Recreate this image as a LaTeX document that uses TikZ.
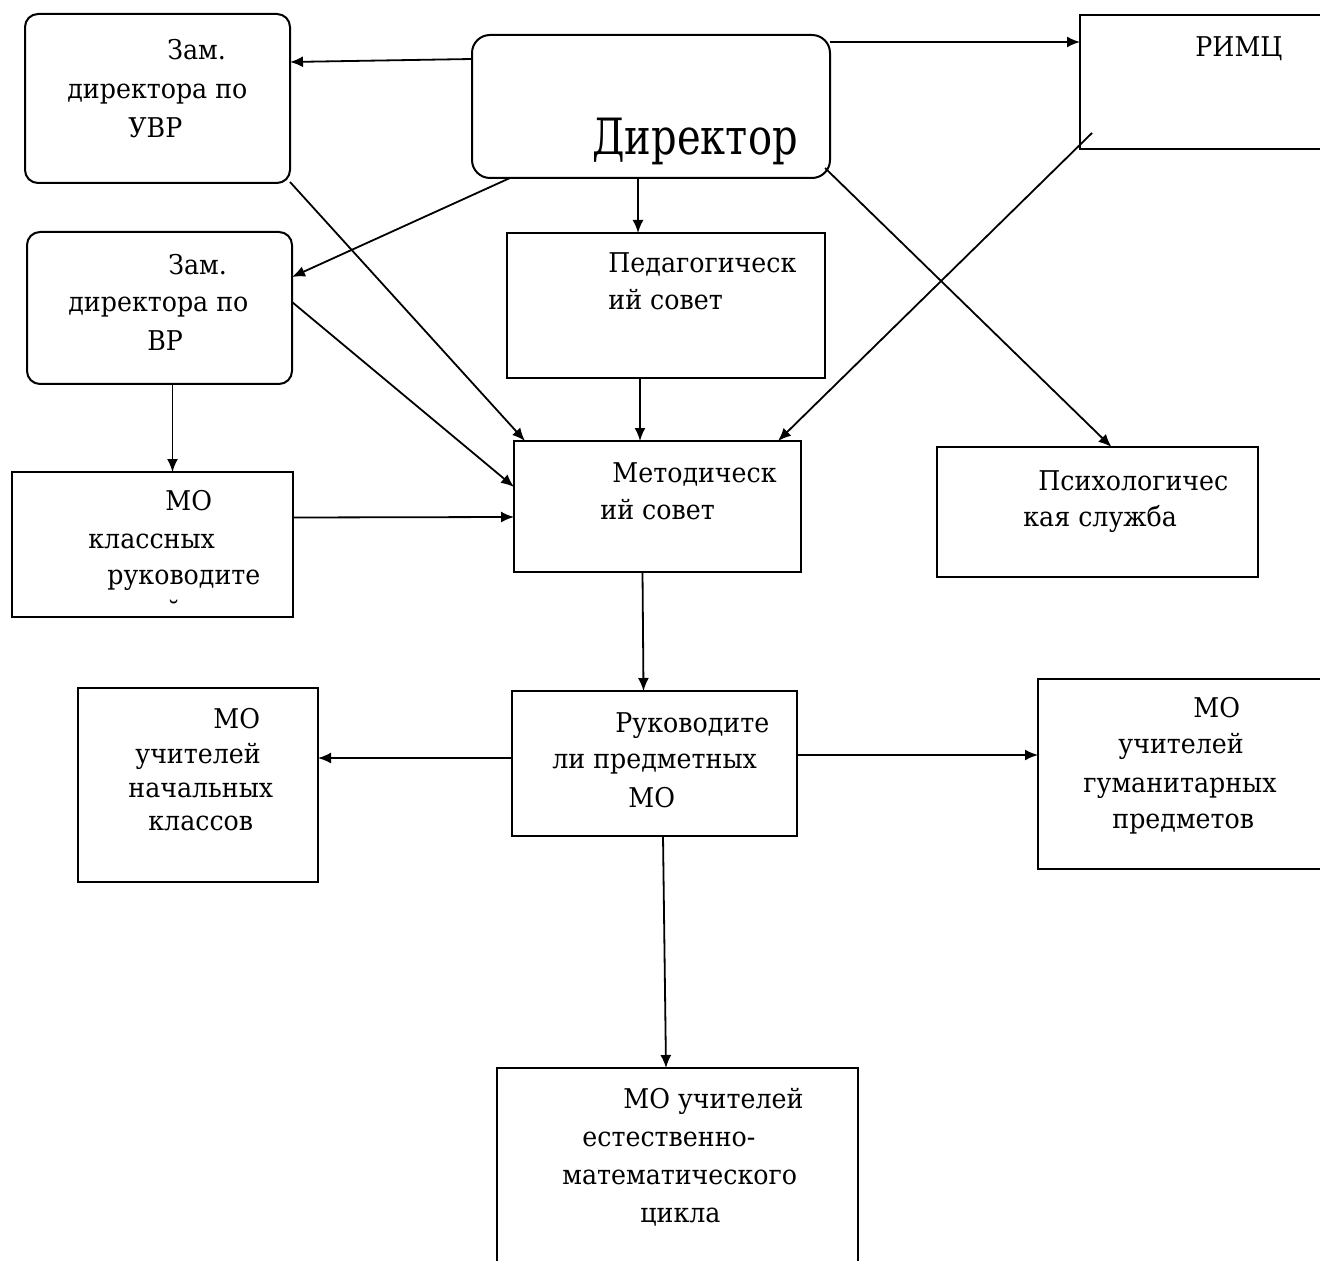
\documentclass[tikz,border=0pt]{standalone}
\usepackage{fontspec}
\setmainfont{DejaVu Serif}[FakeStretch=0.93]
\newfontfamily\dirfont{DejaVu Serif}[FakeStretch=0.8]
\usetikzlibrary{arrows.meta,calc}
\begin{document}
\begin{tikzpicture}[x=0.5pt,y=-0.5pt,
  box/.style={draw, line width=1pt, inner sep=0pt, outer sep=0pt},
  rbox/.style={box, rounded corners=6.5pt},
  txt/.style={inner sep=0pt, anchor=base west, font=\fontsize{13.6pt}{16pt}\selectfont},
  arr/.style={line width=0.9pt, -{Latex[length=6.5pt,width=5.5pt]}}]
\clip (0,0) rectangle (1320,1261);
\fill[white] (0,0) rectangle (1320,1261);
% boxes
\node[rbox, minimum width=132.5pt, minimum height=84.5pt] (uvr) at (157.5,98.5) {};
\node[box, rounded corners=9pt, minimum width=179pt, minimum height=71.5pt] (dir) at (651,106.5) {};
\node[box, minimum width=130pt, minimum height=67pt] (rimc) at (1210,82) {};
\node[rbox, minimum width=132.5pt, minimum height=76pt] (vr) at (159.5,308) {};
\node[box, minimum width=159pt, minimum height=72.5pt] (ped) at (666,305.5) {};
\node[box, minimum width=143.5pt, minimum height=65.5pt] (met) at (657.5,506.5) {};
\node[box, minimum width=160.5pt, minimum height=65pt] (psy) at (1097.5,512) {};
\node[box, minimum width=140.5pt, minimum height=72.5pt] (mok) at (152.5,544.5) {};
\node[box, minimum width=142.5pt, minimum height=72.5pt] (ruk) at (654.5,763.5) {};
\node[box, minimum width=120pt, minimum height=97pt] (nach) at (198,785) {};
\node[box, minimum width=151pt, minimum height=95pt] (gum) at (1189,774) {};
\node[box, minimum width=180.5pt, minimum height=111pt] (est) at (677.5,1179) {};
% texts
\node[txt] (t1) at (167,60) {Зам.};
\node[txt] (t2) at (67,99) {директора по};
\node[txt] (t3) at (128,138) {УВР};
\node[txt, font=\dirfont\fontsize{25pt}{28pt}\selectfont] (t4) at (592,155) {Директор};
\node[txt] (t5) at (1195,57) {РИМЦ};
\node[txt] (t6) at (168,275) {Зам.};
\node[txt] (t7) at (68,312) {директора по};
\node[txt] (t8) at (147,351) {ВР};
\node[txt] (t9) at (608,273) {Педагогическ};
\node[txt] (t10) at (608,310) {ий совет};
\node[txt] (t11) at (612,482) {Методическ};
\node[txt] (t12) at (600,519) {ий совет};
\node[txt] (t13) at (1038,490) {Психологичес};
\node[txt] (t14) at (1023,526) {кая служба};
\node[txt] (t15) at (165,510) {МО};
\node[txt] (t16) at (88,548) {классных};
\node[txt] (t17) at (107,584) {руководите};
\node[txt] (t18) at (167,621) {˘};
\node[txt] (t19) at (615,732) {Руководите};
\node[txt] (t20) at (552,768) {ли предметных};
\node[txt] (t21) at (628,807) {МО};
\node[txt] (t22) at (213,728) {МО};
\node[txt] (t23) at (135,763) {учителей};
\node[txt] (t24) at (128,797) {начальных};
\node[txt] (t25) at (148,830) {классов};
\node[txt] (t26) at (1193,717) {МО};
\node[txt] (t27) at (1118,753) {учителей};
\node[txt] (t28) at (1083,792) {гуманитарных};
\node[txt] (t29) at (1112,828) {предметов};
\node[txt] (t30) at (623,1108) {МО учителей};
\node[txt] (t31) at (582,1146) {естественно-};
\node[txt] (t32) at (562,1184) {математического};
\node[txt] (t33) at (640,1222) {цикла};
% connectors
\draw[arr] ($(dir.north west)+(0,24)$) -- ($(uvr.north east)+(0,48)$);
\draw[arr] ($(dir.north east)+(0,7)$) -- ($(rimc.north west)+(0,27)$);
\draw[arr] ($(dir.south west)+(38,0)$) -- ($(vr.north east)+(0,45)$);
\draw[arr] ($(dir.south)+(-13,0)$) -- ($(ped.north)+(-28,0)$);
\draw[arr] ($(dir.south east)+(-5,-10)$) -- ($(psy.north)+(14,0)$);
\draw[arr] ($(uvr.south east)+(0,-1)$) -- ($(met.north west)+(11,0)$);
\draw[arr] ($(vr.north east)+(0,70)$) -- ($(met.north west)+(0,46)$);
\draw[arr] ($(rimc.south west)+(12,-16)$) -- ($(met.north east)+(-23,0)$);
\draw[arr] ($(ped.south)+(-26,0)$) -- ($(met.north)+(-17.5,0)$);
\draw[arr] ($(vr.south)+(13,0)$) -- ($(mok.north)+(20,0)$);
\draw[arr] ($(mok.east)+(0,-27)$) -- ($(met.north west)+(0,76)$);
\draw[arr] ($(met.south)+(-15,0)$) -- ($(ruk.north)+(-11,0)$);
\draw[arr] ($(ruk.west)+(0,-5.5)$) -- ($(nach.east)+(0,-27)$);
\draw[arr] ($(ruk.east)+(0,-8.5)$) -- ($(gum.west)+(0,-19)$);
\draw[arr] ($(ruk.south)+(8.5,0)$) -- ($(est.north)+(-11.5,0)$);
\end{tikzpicture}
\end{document}
